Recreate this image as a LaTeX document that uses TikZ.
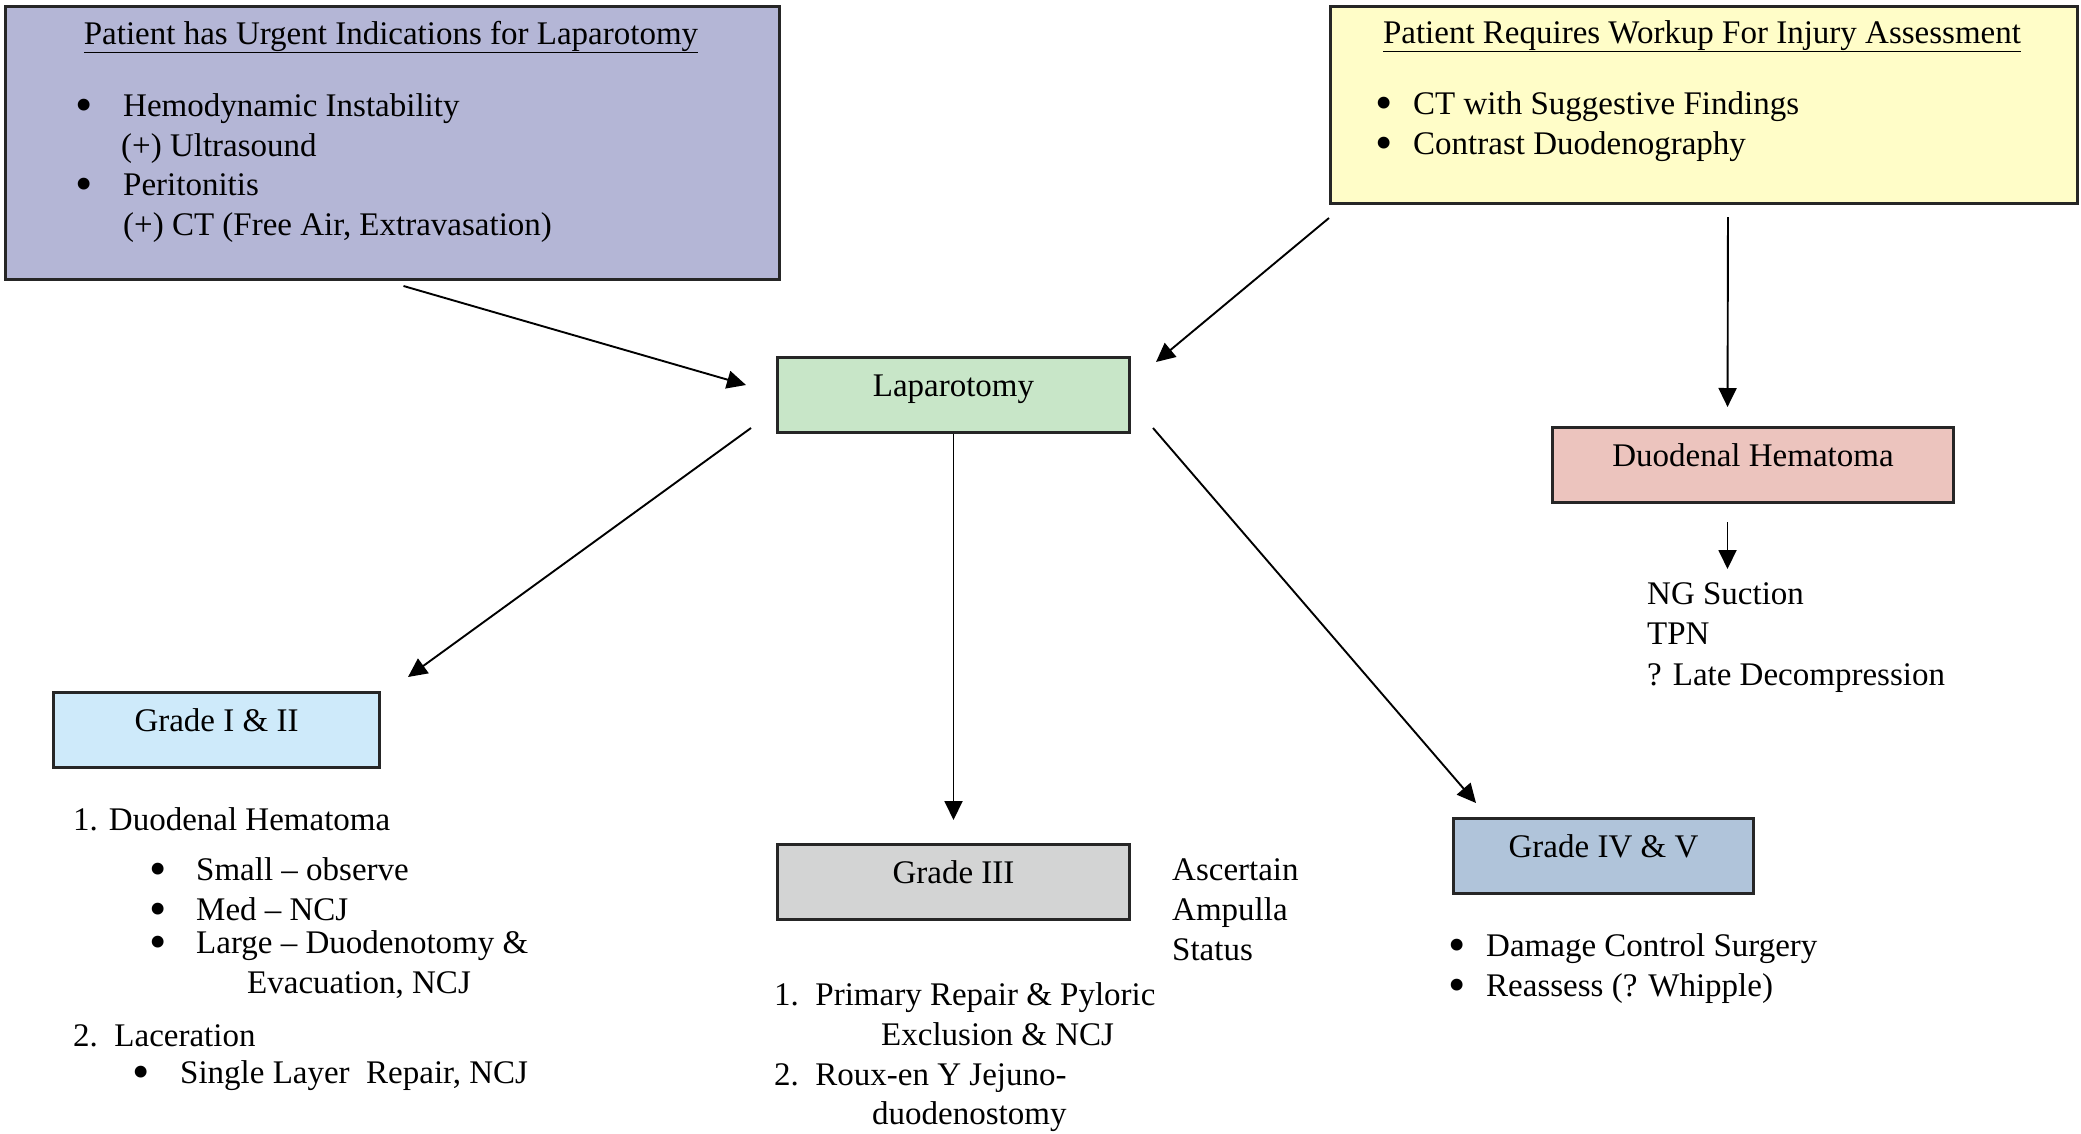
\documentclass[tikz,border=0pt]{standalone}
\usepackage{graphicx}
\usepackage{fontspec}
\setmainfont{Liberation Serif}
\usetikzlibrary{arrows.meta}
\definecolor{urgcol}{RGB}{180,182,214}
\definecolor{wkcol}{RGB}{255,253,200}
\definecolor{lapcol}{RGB}{200,230,200}
\definecolor{dhcol}{RGB}{236,196,190}
\definecolor{gonecol}{RGB}{206,234,250}
\definecolor{gthreecol}{RGB}{211,212,212}
\definecolor{gfourcol}{RGB}{176,196,218}
\newcommand{\fs}{\fontsize{33}{40}\selectfont}
\newcommand{\bl}[1]{\makebox[#1][l]{\hspace{-3pt}\smash{\raisebox{-5pt}{\scalebox{1.5}{\textbullet}}}}}
\begin{document}
\begin{tikzpicture}[x=1pt,y=-1pt,
        box/.style={draw=black!85, line width=3pt, inner sep=0pt, font=\fs, anchor=north west,
            minimum height=75pt, text height=39pt, text depth=36pt},
        bigbox/.style={draw=black!85, line width=3pt, inner sep=0pt, anchor=north west},
        txt/.style={anchor=base west, inner sep=0pt, font=\fs},
        arr/.style={-{Triangle[length=19pt,width=18pt]}, line width=1.9pt}]
    \useasboundingbox (0,0) rectangle (2081,1133);

    \node[bigbox, fill=urgcol, minimum width=774pt, minimum height=273pt] (urg) at (4,5) {};
    \node[anchor=base, inner sep=0pt, font=\fs] (urgtitle) at (391,44) {\underline{Patient has Urgent Indications for Laparotomy}};
    \node[txt] (u1) at (78,116) {\bl{45pt}Hemodynamic Instability};
    \node[txt] (u2) at (121,156) {(+) Ultrasound};
    \node[txt] (u3) at (78,195) {\bl{45pt}Peritonitis};
    \node[txt] (u4) at (123,235) {(+) CT (Free Air, Extravasation)};

    \node[bigbox, fill=wkcol, minimum width=747pt, minimum height=197pt] (wk) at (1329,5) {};
    \node[anchor=base, inner sep=0pt, font=\fs] (wktitle) at (1702,43) {\underline{Patient Requires Workup For Injury Assessment}};
    \node[txt] (w1) at (1378,114) {\bl{35pt}CT with Suggestive Findings};
    \node[txt] (w2) at (1378,154) {\bl{35pt}Contrast Duodenography};

    \node[box, fill=lapcol, minimum width=352pt] (lap) at (776,356) {Laparotomy};
    \node[box, fill=dhcol, minimum width=401pt] (dh) at (1551,426) {Duodenal Hematoma};
    \node[box, fill=gonecol, minimum width=326pt] (gone) at (52,691) {Grade I \& II};
    \node[box, fill=gthreecol, minimum width=352pt] (gthree) at (776,843) {Grade III};
    \node[box, fill=gfourcol, minimum width=300pt] (gfour) at (1452,817) {Grade IV \& V};

    \foreach \y/\t [count=\i] in {604/NG Suction, 644/TPN, 685/? Late Decompression}
        \node[txt] (ng\i) at (1647,\y) {\t};

    \node[txt] (g1a) at (73,830) {1. Duodenal Hematoma};
    \node[txt] (g1b) at (152,880) {\bl{44pt}Small – observe};
    \node[txt] (g1c) at (152,920) {\bl{44pt}Med – NCJ};
    \node[txt] (g1d) at (152,953) {\bl{44pt}Large – Duodenotomy \&};
    \node[txt] (g1e) at (247,993) {Evacuation, NCJ};
    \node[txt] (g1f) at (73,1046) {2.\ \ Laceration};
    \node[txt] (g1g) at (135,1083) {\bl{45pt}Single Layer\ \ Repair, NCJ};

    \node[txt] (g3a) at (774,1005) {1.\ \ Primary Repair \& Pyloric};
    \node[txt] (g3b) at (881,1045) {Exclusion \& NCJ};
    \node[txt] (g3c) at (774,1085) {2.\ \ Roux-en Y Jejuno-};
    \node[txt] (g3d) at (872,1124) {duodenostomy};

    \foreach \y/\t [count=\i] in {880/Ascertain, 920/Ampulla, 960/Status}
        \node[txt] (as\i) at (1172,\y) {\t};

    \node[txt] (g4a) at (1451,956) {\bl{35pt}Damage Control Surgery};
    \node[txt] (g4b) at (1451,996) {\bl{35pt}Reassess (? Whipple)};

    \draw[arr] ([xshift=11pt,yshift=-5pt]urg.south) -- ([xshift=-30pt,yshift=10pt]lap.west);
    \draw[arr] ([yshift=-13pt]wk.south west) -- ([xshift=25pt,yshift=-6pt]lap.north east);
    \draw[arr, shorten <=12pt, shorten >=19pt] ([xshift=24pt]wk.south) -- ([xshift=-25.5pt]dh.north);
    \draw[arr, shorten >=23pt] (lap.south) -- (gthree.north);
    \draw[arr] ([xshift=-25pt,yshift=6pt]lap.south west) -- ([xshift=27pt,yshift=14pt]gone.north east);
    \draw[arr] ([xshift=22pt,yshift=6pt]lap.south east) -- ([xshift=24pt,yshift=14pt]gfour.north west);
    \draw[arr] ([xshift=-25.5pt,yshift=-18pt]dh.south) -- ++(0,47);
\end{tikzpicture}
\end{document}
